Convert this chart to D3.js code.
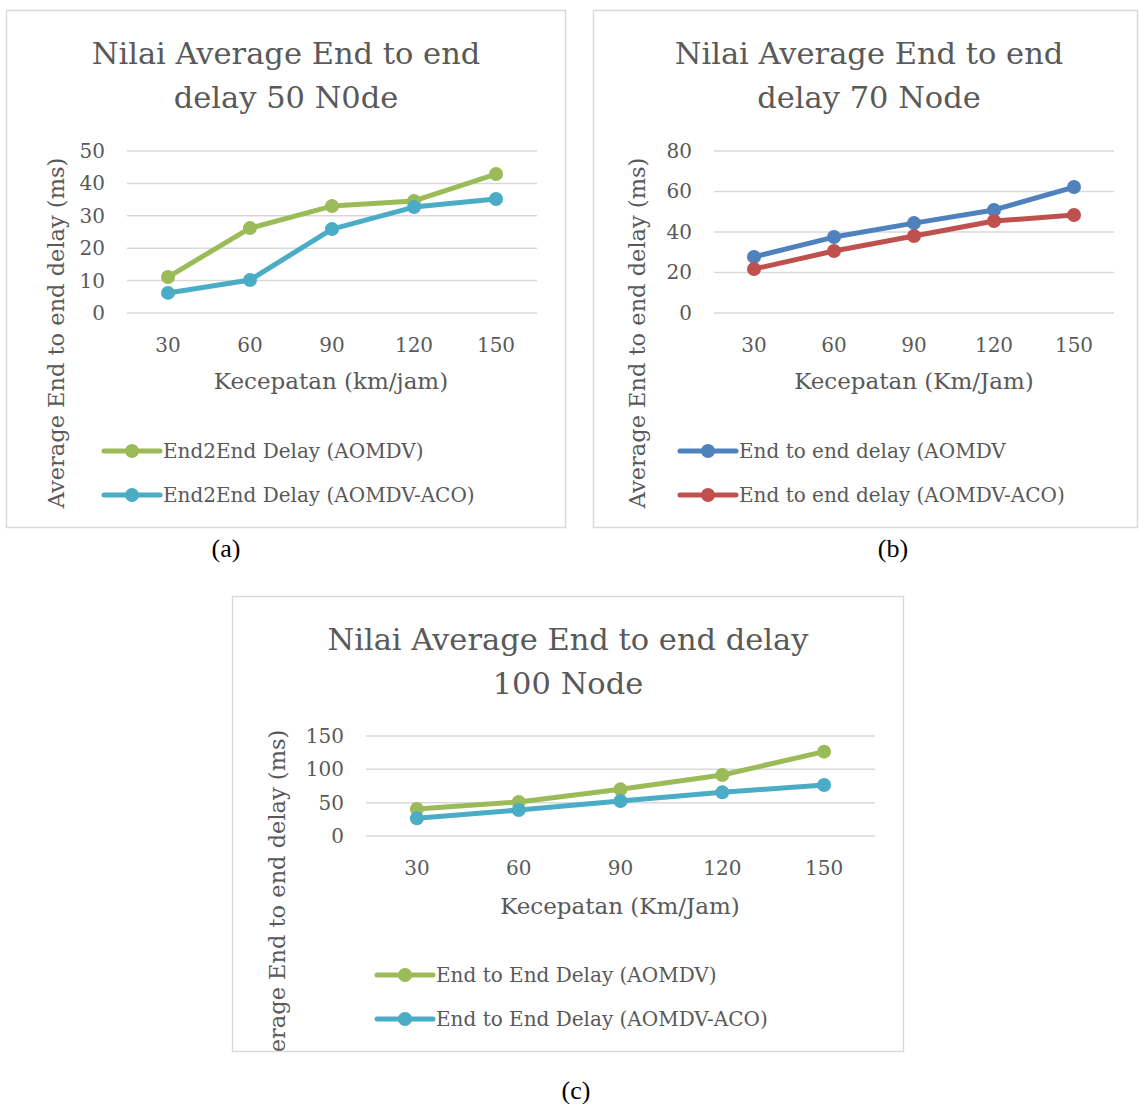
<!DOCTYPE html>
<html>
<head>
<meta charset="utf-8">
<script src="https://cdn.jsdelivr.net/npm/d3@7"></script>
<style>
  body { margin: 0; background: #fff; }
  text { font-family: "DejaVu Serif", serif; fill: #595959; }
  .caption { font-family: "Liberation Serif", serif; fill: #000; }
</style>
</head>
<body>
<svg id="fig" width="1139" height="1104"></svg>
<script>
// shared categories
var speeds = ["30", "60", "90", "120", "150"];

// chart (a) 50 node
var aomdv50 = [11.1, 26.2, 33.0, 34.6, 42.9];
var aco50 = [6.2, 10.2, 25.9, 32.7, 35.2];
var ticks50 = [0, 10, 20, 30, 40, 50];

// chart (b) 70 node
var aomdv70 = [27.7, 37.5, 44.4, 50.9, 62.2];
var aco70 = [21.7, 30.6, 38.0, 45.4, 48.4];
var ticks70 = [0, 20, 40, 60, 80];

// chart (c) 100 node
var aomdv100 = [40.5, 51, 70, 91.5, 126.5];
var aco100 = [26.5, 39, 52.5, 65.5, 76.5];
var ticks100 = [0, 50, 100, 150];

var svg = d3.select("#fig");

function drawChart(opt) {
    let g = svg.append("g").attr("transform", `translate(${opt.box[0]},${opt.box[1]})`);
    let w = opt.box[2], h = opt.box[3];
    let clipId = "clip-" + opt.id;
    g.append("clipPath").attr("id", clipId)
        .append("rect").attr("width", w).attr("height", h);

    let inner = g.append("g").attr("clip-path", `url(#${clipId})`);

    let x = d3.scaleBand().domain(speeds).range([opt.plot[0], opt.plot[1]]);
    let y = d3.scaleLinear().domain([0, d3.max(opt.ticks)]).range([opt.plot[3], opt.plot[2]]);

    // title
    let title = inner.append("text")
        .attr("text-anchor", "middle")
        .style("font-size", "30.5px");
    opt.title.forEach((line, i) => {
        title.append("tspan").attr("x", opt.titleX).attr("y", opt.titleY + i * 44).text(line);
    });

    // gridlines
    inner.append("g").selectAll("line")
        .data(opt.ticks)
        .enter().append("line")
        .attr("x1", opt.plot[0]).attr("x2", opt.plot[1])
        .attr("y1", d => y(d)).attr("y2", d => y(d))
        .attr("stroke", "#d9d9d9").attr("stroke-width", 1.5);

    // y axis
    let yAxis = inner.append("g")
        .attr("transform", `translate(${opt.plot[0]},0)`)
        .call(d3.axisLeft(y).tickValues(opt.ticks).tickSize(0).tickPadding(opt.tickPad));
    yAxis.select(".domain").remove();
    yAxis.selectAll("text").style("font-size", "20px").attr("fill", "#595959").attr("font-family", null);

    // x axis
    let xAxis = inner.append("g")
        .attr("transform", `translate(0,${opt.plot[3]})`)
        .call(d3.axisBottom(x).tickSize(0).tickPadding(25));
    xAxis.select(".domain").remove();
    xAxis.selectAll("text").style("font-size", "20px").attr("fill", "#595959").attr("font-family", null);

    inner.append("text")
        .attr("x", opt.xTitle[0]).attr("y", opt.xTitle[1])
        .attr("text-anchor", "middle")
        .style("font-size", "23px")
        .text(opt.xLabel);

    inner.append("text")
        .attr("transform", `translate(${opt.yTitle[0]},${opt.yTitle[1]}) rotate(-90)`)
        .attr("text-anchor", "middle")
        .style("font-size", "22.5px")
        .text("Average End to end delay (ms)");

    let line = d3.line()
        .x((d, i) => x(speeds[i]) + x.bandwidth() / 2)
        .y(d => y(d));

    opt.series.forEach(s => {
        inner.append("path")
            .datum(s.values)
            .attr("d", line)
            .attr("fill", "none")
            .attr("stroke", s.color)
            .attr("stroke-width", 5)
            .attr("stroke-linejoin", "round");
        inner.append("g").selectAll("circle")
            .data(s.values)
            .enter().append("circle")
            .attr("cx", (d, i) => x(speeds[i]) + x.bandwidth() / 2)
            .attr("cy", d => y(d))
            .attr("r", 7)
            .attr("fill", s.color);
    });

    // legend
    opt.series.forEach((s, i) => {
        let ly = opt.legend[1] + i * 44;
        let lg = inner.append("g").attr("transform", `translate(${opt.legend[0]},${ly})`);
        lg.append("line").attr("x1", 0).attr("x2", 56).attr("y1", 0).attr("y2", 0)
            .attr("stroke", s.color).attr("stroke-width", 5).attr("stroke-linecap", "round");
        lg.append("circle").attr("cx", 28).attr("cy", 0).attr("r", 7).attr("fill", s.color);
        lg.append("text").attr("x", 59).attr("y", 7).style("font-size", "20px").text(s.name);
    });

    // frame
    g.append("rect")
        .attr("x", 0.5).attr("y", 0.5).attr("width", w - 1).attr("height", h - 1)
        .attr("fill", "none").attr("stroke", "#d9d9d9").attr("stroke-width", 1.5);

    svg.append("text").attr("class", "caption")
        .attr("x", opt.caption[0]).attr("y", opt.caption[1])
        .attr("text-anchor", "middle")
        .style("font-size", "26px")
        .text(opt.captionText);
}

drawChart({
    id: "a",
    box: [6, 10, 560, 518],
    plot: [121, 531, 141, 303],
    ticks: ticks50,
    tickPad: 22,
    title: ["Nilai Average End to end", "delay 50 N0de"],
    titleX: 280, titleY: 54,
    xLabel: "Kecepatan (km/jam)",
    xTitle: [325, 379],
    yTitle: [58, 323],
    legend: [98, 441],
    series: [
        {name: "End2End Delay (AOMDV)", values: aomdv50, color: "#9bbb59"},
        {name: "End2End Delay (AOMDV-ACO)", values: aco50, color: "#4bacc6"}
    ],
    caption: [226, 557],
    captionText: "(a)"
});

drawChart({
    id: "b",
    box: [593, 10, 545, 518],
    plot: [121, 521, 141, 303],
    ticks: ticks70,
    tickPad: 22,
    title: ["Nilai Average End to end", "delay 70 Node"],
    titleX: 276, titleY: 54,
    xLabel: "Kecepatan (Km/Jam)",
    xTitle: [321, 379],
    yTitle: [52, 323],
    legend: [87, 441],
    series: [
        {name: "End to end delay (AOMDV", values: aomdv70, color: "#4f81bd"},
        {name: "End to end delay (AOMDV-ACO)", values: aco70, color: "#c0504d"}
    ],
    caption: [893, 557],
    captionText: "(b)"
});

drawChart({
    id: "c",
    box: [232, 596, 672, 456],
    plot: [134, 643, 140, 240],
    ticks: ticks100,
    tickPad: 22,
    title: ["Nilai Average End to end delay", "100 Node"],
    titleX: 336, titleY: 54,
    xLabel: "Kecepatan (Km/Jam)",
    xTitle: [388, 318],
    yTitle: [53, 309],
    legend: [145, 379],
    series: [
        {name: "End to End Delay (AOMDV)", values: aomdv100, color: "#9bbb59"},
        {name: "End to End Delay (AOMDV-ACO)", values: aco100, color: "#4bacc6"}
    ],
    caption: [576, 1099],
    captionText: "(c)"
});
</script>
</body>
</html>
